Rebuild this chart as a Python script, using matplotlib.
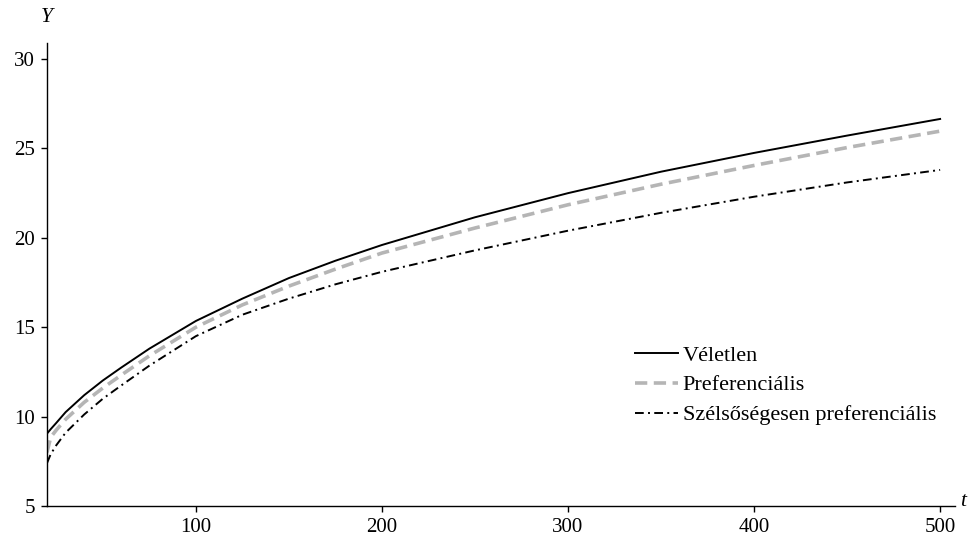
import matplotlib
matplotlib.use("Agg")
import matplotlib.pyplot as plt

t = [20, 22, 25, 30, 40, 50, 60, 75, 100, 125, 150, 175, 200, 250, 300, 350, 400, 450, 500]
veletlen = [9.05, 9.3, 9.65, 10.25, 11.2, 12.02, 12.75, 13.8, 15.35, 16.6, 17.75, 18.72, 19.6, 21.15, 22.5, 23.7, 24.75, 25.72, 26.65]
preferencialis = [8.0, 8.85, 9.25, 9.85, 10.8, 11.6, 12.33, 13.4, 15.0, 16.25, 17.3, 18.25, 19.15, 20.55, 21.85, 23.0, 24.05, 25.05, 25.97]
szelsoseges = [7.4, 7.9, 8.4, 9.1, 10.12, 11.0, 11.75, 12.85, 14.5, 15.7, 16.6, 17.4, 18.1, 19.3, 20.4, 21.4, 22.3, 23.1, 23.8]

labels = ["Véletlen", "Preferenciális", "Szélsőségesen preferenciális"]
xticks = [100, 200, 300, 400, 500]
yticks = [5, 10, 15, 20, 25, 30]

plt.rcParams['font.family'] = ['Liberation Serif', 'DejaVu Serif']

fig = plt.figure(figsize=(9.79, 5.42), dpi=100)
ax = fig.add_axes([0.048, 0.0664, 0.9275, 0.8543])

ax.plot(t, veletlen, color='black', lw=1.4, label=labels[0])
ax.plot(t, preferencialis, color='#b5b5b5', lw=2.6, dashes=(3.4, 1.8), label=labels[1])
ax.plot(t, szelsoseges, color='black', lw=1.4, dashes=(4.5, 2.2, 1.0, 2.2), label=labels[2])

ax.set_xlim(20, 508)
ax.set_ylim(5, 30.9)
ax.set_xticks(xticks)
ax.set_yticks(yticks)
for s in ['top', 'right']:
    ax.spines[s].set_visible(False)
for s in ['left', 'bottom']:
    ax.spines[s].set_linewidth(1.0)
ax.tick_params(axis='both', direction='out', length=4.5, width=1.0, labelsize=15, pad=4)

fig.text(47/979, 1-18/542, 'Y', fontsize=15.5, style='italic', ha='center', va='center')
fig.text(960/979, 1-502/542, 't', fontsize=15.5, style='italic', ha='left', va='center')

ax.legend(loc='center left', bbox_to_anchor=(0.6476, 0.261), frameon=False,
          fontsize=16, handlelength=1.95, handletextpad=0.2, labelspacing=0.42,
          borderaxespad=0, borderpad=0)

fig.savefig('out.png', dpi=100)
